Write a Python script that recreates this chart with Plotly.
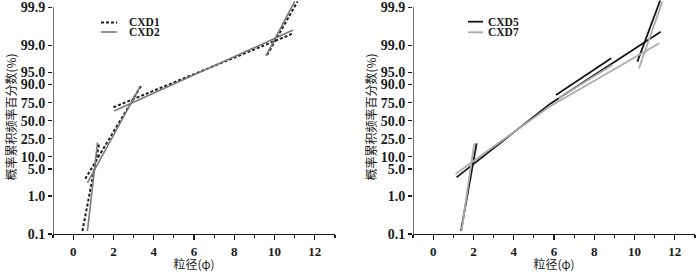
import numpy as np
import plotly.graph_objects as go

# ---------------- data ----------------
y_tick_pct = [0.1, 1.0, 5.0, 10.0, 25.0, 50.0, 75.0, 90.0, 95.0, 99.0, 99.9]
y_tick_text = ["0.1", "1.0", "5.0", "10.0", "25.0", "50.0", "75.0", "90.0", "95.0", "99.0", "99.9"]
x_tick_vals = [0, 2, 4, 6, 8, 10, 12]

# Each sample = several straight fitted segments: [phi_start, phi_end], [pct_start, pct_end]
cxd1_phi = [[0.46, 1.30], [0.60, 3.40], [2.00, 10.92], [9.63, 11.14]]
cxd1_pct = [[0.12, 20.5], [2.8, 89.8], [69.3, 99.51], [98.2, 99.93]]

cxd2_phi = [[0.71, 1.21], [0.71, 3.30], [2.03, 10.92], [9.57, 11.00]]
cxd2_pct = [[0.12, 20.7], [2.2, 88.4], [64.3, 99.60], [98.1, 99.93]]

cxd5_phi = [[1.38, 2.16], [1.16, 5.82], [6.10, 8.84], [5.82, 11.30], [10.14, 11.27]]
cxd5_pct = [[0.12, 20.0], [3.06, 73.8], [82.7, 97.81], [73.8, 99.56], [97.33, 99.934]]

cxd7_phi = [[1.41, 2.04], [1.11, 5.73], [6.23, 8.89], [5.73, 11.22], [10.22, 11.38]]
cxd7_pct = [[0.12, 20.0], [3.72, 69.3], [79.6, 96.75], [69.3, 99.11], [96.05, 99.93]]


def logit_pct(p):
    p = np.asarray(p, dtype=float) / 100.0
    return np.log(p / (1.0 - p))


def segments(phi, pct):
    xs, ys = [], []
    for (x0, x1), (p0, p1) in zip(phi, pct):
        xs += [x0, x1, None]
        ys += [float(v) for v in logit_pct([p0, p1])] + [None]
    return xs, ys


W, H = 700, 272
ML, MR, MT, MB = 53, 5, 0, 38
PW, PH = W - ML - MR, H - MT - MB


def px(x):  # pixel -> paper x
    return (x - ML) / PW


def py(y):  # pixel -> paper y
    return 1 - (y - MT) / PH


fig = go.Figure()

series = [
    ("CXD1", cxd1_phi, cxd1_pct, dict(color="#1e1e1e", width=2, dash="3px,2px"), "x", "y"),
    ("CXD2", cxd2_phi, cxd2_pct, dict(color="#7a7a7a", width=1.6), "x", "y"),
    ("CXD5", cxd5_phi, cxd5_pct, dict(color="#141414", width=1.8), "x2", "y2"),
    ("CXD7", cxd7_phi, cxd7_pct, dict(color="#ababab", width=1.8), "x2", "y2"),
]
for name, phi, pct, line, xa, ya in series:
    xs, ys = segments(phi, pct)
    fig.add_trace(go.Scatter(x=xs, y=ys, mode="lines", name=name, line=line,
                             xaxis=xa, yaxis=ya, connectgaps=False, showlegend=False,
                             hoverinfo="skip"))

ymin = float(logit_pct(0.1))
ymax_axis = float(logit_pct(99.9))
y_range = [ymin, ymax_axis + 0.445]
ink = "#1a1a1a"
xtick_font = dict(family="Liberation Serif", size=13, color=ink, weight="bold")
ytick_font = dict(family="Liberation Serif", size=14, color=ink, weight="bold")
cjk_font = dict(family="Noto Sans CJK SC", size=12, color=ink)

xcommon = dict(range=[-1, 13], tickvals=x_tick_vals, ticks="outside", ticklen=5, tickwidth=1.2,
               tickcolor=ink, showline=True, linecolor=ink, linewidth=1.3,
               showgrid=False, zeroline=False, tickfont=xtick_font, automargin=False,
               ticklabeloverflow="allow",
               minor=dict(dtick=1, tick0=0, ticks="outside", ticklen=3, tickcolor=ink),
               title=dict(text="粒径(φ)", font=cjk_font, standoff=4))
ycommon = dict(range=y_range, tickvals=[float(v) for v in logit_pct(y_tick_pct)], ticktext=y_tick_text,
               ticks="outside", ticklen=4, tickwidth=1.2, tickcolor=ink, automargin=False,
               ticklabeloverflow="allow",
               showline=False, showgrid=False, zeroline=False, tickfont=ytick_font,
               title=dict(text="概率累积频率百分数(%)", font=cjk_font, standoff=1))

fig.update_layout(
    width=W, height=H,
    margin=dict(l=ML, r=MR, t=MT, b=MB),
    paper_bgcolor="white", plot_bgcolor="white",
    xaxis=dict(domain=[0, 282 / PW], anchor="y", **xcommon),
    yaxis=dict(domain=[0, 1], anchor="x", **ycommon),
    xaxis2=dict(domain=[1 - 282 / PW, 1], anchor="y2", **xcommon),
    yaxis2=dict(domain=[0, 1], anchor="x2", **ycommon),
    showlegend=False,
    hovermode=False,
)

# y axis lines stop at the 99.9 tick, as in the reference
for xr, yr in (("x", "y"), ("x2", "y2")):
    fig.add_shape(type="line", xref=xr, yref=yr, x0=-1, x1=-1, y0=ymin, y1=ymax_axis,
                  line=dict(color=ink, width=1.3), layer="above")

# legends (one per panel), drawn as line samples + text labels
legend_items = [
    ("CXD1", dict(color="#1e1e1e", width=2, dash="3px,2px"), 101, 117, 22.5, 127),
    ("CXD2", dict(color="#7a7a7a", width=1.6), 101, 117, 32, 127),
    ("CXD5", dict(color="#141414", width=1.8), 468, 483, 21.7, 486),
    ("CXD7", dict(color="#ababab", width=1.8), 468, 483, 32.3, 486),
]
for name, line, x0, x1, yc, xt in legend_items:
    fig.add_shape(type="line", xref="paper", yref="paper", x0=px(x0), x1=px(x1),
                  y0=py(yc), y1=py(yc), line=line)
    fig.add_annotation(text=name, xref="paper", yref="paper", x=px(xt), y=py(yc),
                       xanchor="left", yanchor="middle", showarrow=False,
                       font=dict(family="Liberation Serif", size=11.5, color=ink, weight="bold"))

fig.write_html("out.html", config={"displayModeBar": False, "staticPlot": True},
               post_script="document.body.style.margin='0';document.body.style.overflow='hidden';")
